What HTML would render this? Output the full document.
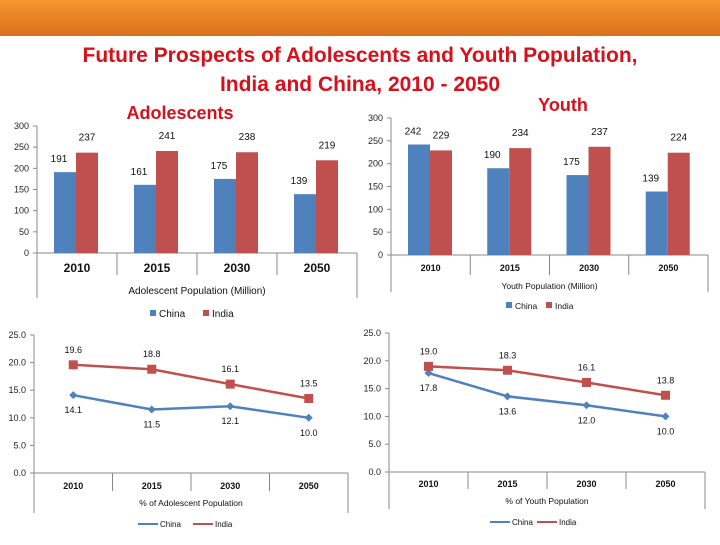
<!DOCTYPE html>
<html><head><meta charset="utf-8"><style>
body{margin:0;background:#fff;}
svg text{font-family:"Liberation Sans",sans-serif;}
</style></head><body>
<svg id="s" width="720" height="540" xmlns="http://www.w3.org/2000/svg">
<defs><linearGradient id="og" x1="0" y1="0" x2="0" y2="1"><stop offset="0" stop-color="#f7962e"/><stop offset="1" stop-color="#d8711a"/></linearGradient></defs>
<rect x="0" y="0" width="720" height="36" fill="url(#og)"/>
<text x="360" y="62" text-anchor="middle" font-size="21" font-weight="bold" fill="#d8101c">Future Prospects of Adolescents and Youth Population,</text>
<text x="360" y="91" text-anchor="middle" font-size="21" font-weight="bold" fill="#d8101c">India and China, 2010 - 2050</text>
<text x="180" y="119" text-anchor="middle" font-size="18" font-weight="bold" fill="#d8101c">Adolescents</text>
<text x="563" y="111" text-anchor="middle" font-size="18" font-weight="bold" fill="#d8101c">Youth</text>
<g id="g"></g>
</svg>
<script>
const categories = ["2010","2015","2030","2050"];
const adolChina = [191,161,175,139];
const adolIndia = [237,241,238,219];
const youthChina = [242,190,175,139];
const youthIndia = [229,234,237,224];
const barTicks = [0,50,100,150,200,250,300];
const adolPctChina = [14.1,11.5,12.1,10.0];
const adolPctIndia = [19.6,18.8,16.1,13.5];
const youthPctChina = [17.8,13.6,12.0,10.0];
const youthPctIndia = [19.0,18.3,16.1,13.8];
const lineTicks = [0,5,10,15,20,25];
const BLUE="#4f81bd", RED="#c0504d", AX="#888";
const G=document.getElementById('g');
function mk(tag,attrs,txt){const e=document.createElementNS("http://www.w3.org/2000/svg",tag);for(const k in attrs)e.setAttribute(k,attrs[k]);if(txt!==undefined)e.textContent=txt;G.appendChild(e);return e;}

function frame(o){
  const y=v=>o.y0-(v-o.min)/(o.max-o.min)*(o.y0-o.y1);
  const bw=(o.x1-o.x0)/categories.length;
  let e=mk("line",{x1:o.x0,y1:o.y1,x2:o.x0,y2:o.y0,stroke:AX});
  
  
  e=mk("line",{x1:o.x0,y1:o.y0,x2:o.x1,y2:o.y0,stroke:AX});
  
  
  o.ticks.forEach(t=>{
    const l=mk("line",{x1:o.x0-4,y1:y(t),x2:o.x0,y2:y(t),stroke:AX});
    
    
    const tx=mk("text",{x:o.x0-8,y:y(t)+3,"text-anchor":"end","font-size":9,fill:"#222"},o.fmt(t));
    
    
  });
  for(let i=0;i<=categories.length;i++){
    const x=o.x0+i*bw;const outer=(i==0||i==categories.length);
    const l=mk("line",{x1:x,y1:o.y0,x2:x,y2:o.y0+(outer?o.outerDrop:o.sepDrop),stroke:AX});
    
    
  }
  categories.forEach((c,i)=>{
    const t=mk("text",{x:o.x0+(i+.5)*bw,y:o.y0+o.catDy,"text-anchor":"middle","font-size":o.catFs,"font-weight":"bold","font-family":"Liberation Serif",fill:"#111"},c);
    
    
  });
  const tt=mk("text",{x:(o.x0+o.x1)/2,y:o.titleY,"text-anchor":"middle","font-size":o.titleFs,fill:"#111"},o.title);
  
  
  return {y,bw};
}

function barChart(o,china,india){
  const f=frame(o);
  const bar=22;
  [[china,BLUE,'china'],[india,RED,'india']].forEach(([d,col,nm],s)=>{
    d.forEach((v,i)=>{
      const x=o.x0+i*f.bw+17+s*bar;
      const r=mk("rect",{x:x,y:f.y(v),width:bar,height:o.y0-f.y(v),fill:col});
      
      
      const t=mk("text",{x:x+bar/2-(s?0:6),y:f.y(v)-(s?12:10),"text-anchor":"middle","font-size":10,fill:"#111"},v);
      
      
    });
  });
  const lg=o.legend;
  [["China",BLUE,lg[0]],["India",RED,lg[1]]].forEach(([n,c,x])=>{
    const r=mk("rect",{x:x,y:o.legY-7,width:6,height:6,fill:c});
    
    
    const t=mk("text",{x:x+9,y:o.legY,"font-size":o.legFs,fill:"#111"},n);
    
    
  });
}

function lineChart(o,china,india){
  const f=frame(o);
  [[china,BLUE,'china',18],[india,RED,'india',-12]].forEach(([d,col,nm,dy])=>{
    const pts=d.map((v,i)=>[o.x0+(i+.5)*f.bw,f.y(v)]);
    const pl=mk("polyline",{points:pts.map(p=>p.join(",")).join(" "),fill:"none",stroke:col,"stroke-width":2.5});
    
    
    pts.forEach((p,i)=>{
      let m;
      if(nm=='china') m=mk("polygon",{points:`${p[0]},${p[1]-4} ${p[0]+4},${p[1]} ${p[0]},${p[1]+4} ${p[0]-4},${p[1]}`,fill:col});
      else m=mk("rect",{x:p[0]-4.5,y:p[1]-4.5,width:9,height:9,fill:col});
      
      
      const t=mk("text",{x:p[0],y:p[1]+dy,"text-anchor":"middle","font-size":9,fill:"#111"},d[i].toFixed(1));
      
      
    });
  });
  const lg=o.legend;
  [["China",BLUE,lg[0],'diamond'],["India",RED,lg[1],'square']].forEach(([n,c,x,sh])=>{
    const l=mk("line",{x1:x,y1:o.legY-3,x2:x+20,y2:o.legY-3,stroke:c,"stroke-width":2});
    
    
    const t=mk("text",{x:x+22,y:o.legY,"font-size":8,fill:"#111"},n);
    
    
  });
}

barChart({p:"adol-bar",x0:37,x1:357,y0:253,y1:126,min:0,max:300,ticks:barTicks,fmt:t=>t,outerDrop:45,sepDrop:22,catDy:19,catFs:12,title:"Adolescent Population (Million)",titleY:294,titleFs:10,legend:[150,203],legY:317,legFs:10},adolChina,adolIndia);
barChart({p:"youth-bar",x0:391,x1:708,y0:255,y1:118,min:0,max:300,ticks:barTicks,fmt:t=>t,outerDrop:37,sepDrop:20,catDy:16,catFs:9,title:"Youth Population (Million)",titleY:289,titleFs:8.5,legend:[506,546],legY:309,legFs:8.5},youthChina,youthIndia);
lineChart({p:"adol-pct",x0:34,x1:348,y0:473,y1:335,min:0,max:25,ticks:lineTicks,fmt:t=>t.toFixed(1),outerDrop:40,sepDrop:18,catDy:16,catFs:9,title:"% of Adolescent Population",titleY:506,titleFs:8.5,legend:[138,193],legY:527},adolPctChina,adolPctIndia);
lineChart({p:"youth-pct",x0:389,x1:705,y0:472,y1:333,min:0,max:25,ticks:lineTicks,fmt:t=>t.toFixed(1),outerDrop:37,sepDrop:17,catDy:15,catFs:9,title:"% of Youth Population",titleY:504,titleFs:8.5,legend:[490,537],legY:525},youthPctChina,youthPctIndia);
</script>
</body></html>
